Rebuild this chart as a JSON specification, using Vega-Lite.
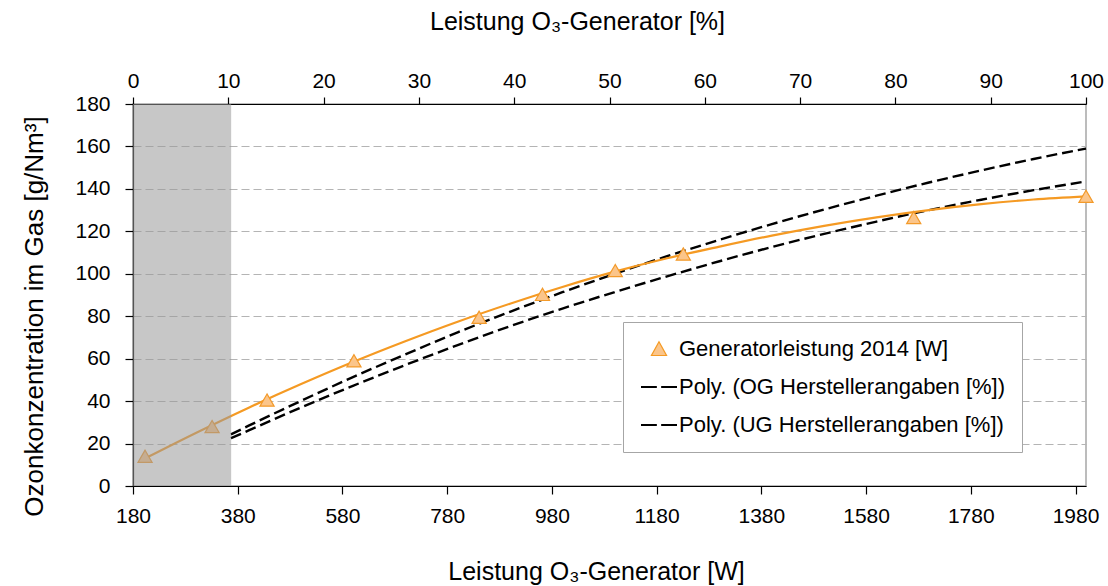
{
  "$schema": "https://vega.github.io/schema/vega-lite/v6.json",
  "width": 953,
  "height": 382,
  "autosize": {"type": "none"},
  "padding": {"left": 133, "top": 104, "right": 22, "bottom": 100},
  "background": "white",
  "config": {
    "font": "Liberation Sans",
    "view": {"stroke": "#a6a6a6", "strokeWidth": 1.5},
    "axis": {
      "labelFont": "Liberation Sans",
      "labelFontSize": 21,
      "labelColor": "black",
      "titleFont": "Liberation Sans",
      "titleFontSize": 25,
      "titleFontWeight": "normal",
      "titleColor": "black",
      "domainColor": "black",
      "domainWidth": 1.2,
      "tickColor": "black",
      "tickWidth": 1.2,
      "labelOverlap": false,
      "labelFlush": false,
      "format": "d",
      "zindex": 1
    },
    "legend": {"labelFont": "Liberation Sans"}
  },
  "datasets": {
    "series": [
      {"series": "Generatorleistung 2014 [W]", "kind": "point", "W": 203, "y": 14},
      {"series": "Generatorleistung 2014 [W]", "kind": "point", "W": 331, "y": 28},
      {"series": "Generatorleistung 2014 [W]", "kind": "point", "W": 436, "y": 40.5},
      {"series": "Generatorleistung 2014 [W]", "kind": "point", "W": 602, "y": 59},
      {"series": "Generatorleistung 2014 [W]", "kind": "point", "W": 841, "y": 79.5},
      {"series": "Generatorleistung 2014 [W]", "kind": "point", "W": 962, "y": 90.3},
      {"series": "Generatorleistung 2014 [W]", "kind": "point", "W": 1101, "y": 101.5},
      {"series": "Generatorleistung 2014 [W]", "kind": "point", "W": 1231, "y": 109.3},
      {"series": "Generatorleistung 2014 [W]", "kind": "point", "W": 1671, "y": 126.5},
      {"series": "Generatorleistung 2014 [W]", "kind": "point", "W": 2000, "y": 136.5},

      {"series": "Generatorleistung 2014 [W]", "kind": "trend", "W": 203, "y": 13.0},
      {"series": "Generatorleistung 2014 [W]", "kind": "trend", "W": 300, "y": 25.0},
      {"series": "Generatorleistung 2014 [W]", "kind": "trend", "W": 400, "y": 36.8},
      {"series": "Generatorleistung 2014 [W]", "kind": "trend", "W": 500, "y": 47.9},
      {"series": "Generatorleistung 2014 [W]", "kind": "trend", "W": 600, "y": 58.4},
      {"series": "Generatorleistung 2014 [W]", "kind": "trend", "W": 700, "y": 68.2},
      {"series": "Generatorleistung 2014 [W]", "kind": "trend", "W": 800, "y": 77.4},
      {"series": "Generatorleistung 2014 [W]", "kind": "trend", "W": 900, "y": 85.9},
      {"series": "Generatorleistung 2014 [W]", "kind": "trend", "W": 1000, "y": 93.8},
      {"series": "Generatorleistung 2014 [W]", "kind": "trend", "W": 1100, "y": 101.0},
      {"series": "Generatorleistung 2014 [W]", "kind": "trend", "W": 1200, "y": 107.3},
      {"series": "Generatorleistung 2014 [W]", "kind": "trend", "W": 1300, "y": 112.8},
      {"series": "Generatorleistung 2014 [W]", "kind": "trend", "W": 1400, "y": 118.0},
      {"series": "Generatorleistung 2014 [W]", "kind": "trend", "W": 1500, "y": 122.6},
      {"series": "Generatorleistung 2014 [W]", "kind": "trend", "W": 1600, "y": 126.6},
      {"series": "Generatorleistung 2014 [W]", "kind": "trend", "W": 1700, "y": 130.0},
      {"series": "Generatorleistung 2014 [W]", "kind": "trend", "W": 1800, "y": 132.8},
      {"series": "Generatorleistung 2014 [W]", "kind": "trend", "W": 1900, "y": 135.0},
      {"series": "Generatorleistung 2014 [W]", "kind": "trend", "W": 2000, "y": 136.5},

      {"series": "Poly. (OG Herstellerangaben [%])", "kind": "trend", "W": 367, "y": 24.3},
      {"series": "Poly. (OG Herstellerangaben [%])", "kind": "trend", "W": 400, "y": 28.3},
      {"series": "Poly. (OG Herstellerangaben [%])", "kind": "trend", "W": 500, "y": 40.0},
      {"series": "Poly. (OG Herstellerangaben [%])", "kind": "trend", "W": 600, "y": 51.3},
      {"series": "Poly. (OG Herstellerangaben [%])", "kind": "trend", "W": 700, "y": 62.0},
      {"series": "Poly. (OG Herstellerangaben [%])", "kind": "trend", "W": 800, "y": 72.4},
      {"series": "Poly. (OG Herstellerangaben [%])", "kind": "trend", "W": 900, "y": 82.1},
      {"series": "Poly. (OG Herstellerangaben [%])", "kind": "trend", "W": 1000, "y": 91.3},
      {"series": "Poly. (OG Herstellerangaben [%])", "kind": "trend", "W": 1100, "y": 100.0},
      {"series": "Poly. (OG Herstellerangaben [%])", "kind": "trend", "W": 1200, "y": 108.3},
      {"series": "Poly. (OG Herstellerangaben [%])", "kind": "trend", "W": 1300, "y": 116.0},
      {"series": "Poly. (OG Herstellerangaben [%])", "kind": "trend", "W": 1400, "y": 123.4},
      {"series": "Poly. (OG Herstellerangaben [%])", "kind": "trend", "W": 1500, "y": 130.3},
      {"series": "Poly. (OG Herstellerangaben [%])", "kind": "trend", "W": 1600, "y": 136.8},
      {"series": "Poly. (OG Herstellerangaben [%])", "kind": "trend", "W": 1700, "y": 143.0},
      {"series": "Poly. (OG Herstellerangaben [%])", "kind": "trend", "W": 1800, "y": 148.7},
      {"series": "Poly. (OG Herstellerangaben [%])", "kind": "trend", "W": 1900, "y": 154.1},
      {"series": "Poly. (OG Herstellerangaben [%])", "kind": "trend", "W": 2000, "y": 159.0},

      {"series": "Poly. (UG Herstellerangaben [%])", "kind": "trend", "W": 367, "y": 22.5},
      {"series": "Poly. (UG Herstellerangaben [%])", "kind": "trend", "W": 400, "y": 26.1},
      {"series": "Poly. (UG Herstellerangaben [%])", "kind": "trend", "W": 500, "y": 36.9},
      {"series": "Poly. (UG Herstellerangaben [%])", "kind": "trend", "W": 600, "y": 47.2},
      {"series": "Poly. (UG Herstellerangaben [%])", "kind": "trend", "W": 700, "y": 57.0},
      {"series": "Poly. (UG Herstellerangaben [%])", "kind": "trend", "W": 800, "y": 66.4},
      {"series": "Poly. (UG Herstellerangaben [%])", "kind": "trend", "W": 900, "y": 75.3},
      {"series": "Poly. (UG Herstellerangaben [%])", "kind": "trend", "W": 1000, "y": 83.6},
      {"series": "Poly. (UG Herstellerangaben [%])", "kind": "trend", "W": 1100, "y": 91.4},
      {"series": "Poly. (UG Herstellerangaben [%])", "kind": "trend", "W": 1200, "y": 98.8},
      {"series": "Poly. (UG Herstellerangaben [%])", "kind": "trend", "W": 1300, "y": 105.9},
      {"series": "Poly. (UG Herstellerangaben [%])", "kind": "trend", "W": 1400, "y": 112.6},
      {"series": "Poly. (UG Herstellerangaben [%])", "kind": "trend", "W": 1500, "y": 118.8},
      {"series": "Poly. (UG Herstellerangaben [%])", "kind": "trend", "W": 1600, "y": 124.6},
      {"series": "Poly. (UG Herstellerangaben [%])", "kind": "trend", "W": 1700, "y": 130.0},
      {"series": "Poly. (UG Herstellerangaben [%])", "kind": "trend", "W": 1800, "y": 134.9},
      {"series": "Poly. (UG Herstellerangaben [%])", "kind": "trend", "W": 1900, "y": 139.4},
      {"series": "Poly. (UG Herstellerangaben [%])", "kind": "trend", "W": 2000, "y": 143.5}
    ],
    "shade": [
      {"from_pct": 0, "to_pct": 10.3}
    ]
  },
  "layer": [
    {
      "data": {"name": "series"},
      "encoding": {
        "x": {
          "field": "W",
          "type": "quantitative",
          "scale": {"domain": [180, 2000], "nice": false, "zero": false},
          "axis": {
            "orient": "bottom",
            "values": [180, 380, 580, 780, 980, 1180, 1380, 1580, 1780, 1980],
            "tickSize": 8,
            "labelPadding": 11,
            "grid": false,
            "title": "Leistung O₃-Generator [W]",
            "titleX": 463,
            "titleY": 93,
            "titleAlign": "center",
            "titleBaseline": "alphabetic"
          }
        },
        "y": {
          "field": "y",
          "type": "quantitative",
          "scale": {"domain": [0, 180], "nice": false},
          "axis": {
            "orient": "left",
            "values": [0, 20, 40, 60, 80, 100, 120, 140, 160, 180],
            "tickSize": 8,
            "labelPadding": 15,
            "grid": true,
            "gridColor": "#b4b4b4",
            "gridDash": [8, 4],
            "gridWidth": 1.2,
            "title": "Ozonkonzentration im Gas [g/Nm³]",
            "titleFontSize": 26,
            "titleAngle": -90,
            "titleX": -99,
            "titleY": 212,
            "titleAlign": "center",
            "titleBaseline": "middle"
          }
        }
      },
      "layer": [
        {
          "transform": [{"filter": "datum.kind === 'trend' && datum.series !== 'Generatorleistung 2014 [W]'"}],
          "mark": {"type": "line", "strokeWidth": 2.4, "strokeDash": [11, 5], "interpolate": "monotone"},
          "encoding": {
            "detail": {"field": "series"},
            "color": {
              "field": "series",
              "type": "nominal",
              "scale": {
                "domain": ["Generatorleistung 2014 [W]", "Poly. (OG Herstellerangaben [%])", "Poly. (UG Herstellerangaben [%])"],
                "range": ["#F59A23", "#000000", "#000000"]
              },
              "legend": {
                "orient": "none",
                "legendX": 490,
                "legendY": 218,
                "title": null,
                "padding": 16,
                "fillColor": "white",
                "strokeColor": "#a6a6a6",
                "symbolSize": 1296,
                "labelFontSize": 22,
                "labelColor": "black",
                "labelOffset": 18,
                "labelLimit": 500,
                "rowPadding": 16,
                "zindex": 3,
                "encode": {
                  "symbols": {
                    "update": {
                      "shape": {"signal": "datum.value === 'Generatorleistung 2014 [W]' ? 'M0.5,-0.4L0.92,0.36L0.08,0.36Z' : 'M-0.5,0H0.38M0.62,0H1.5'"},
                      "size": {"value": 1296},
                      "fill": {"signal": "datum.value === 'Generatorleistung 2014 [W]' ? '#FBC58A' : 'transparent'"},
                      "stroke": {"signal": "datum.value === 'Generatorleistung 2014 [W]' ? '#F39A2A' : '#000000'"},
                      "strokeWidth": {"signal": "datum.value === 'Generatorleistung 2014 [W]' ? 1.2 : 2"},
                      "strokeDash": {"value": []},
                      "opacity": {"value": 1}
                    }
                  }
                }
              }
            }
          }
        },
        {
          "transform": [{"filter": "datum.kind === 'trend' && datum.series === 'Generatorleistung 2014 [W]'"}],
          "mark": {"type": "line", "strokeWidth": 2.2, "interpolate": "monotone"},
          "encoding": {
            "color": {
              "field": "series",
              "type": "nominal",
              "scale": {
                "domain": ["Generatorleistung 2014 [W]", "Poly. (OG Herstellerangaben [%])", "Poly. (UG Herstellerangaben [%])"],
                "range": ["#F59A23", "#000000", "#000000"]
              }
            }
          }
        },
        {
          "transform": [{"filter": "datum.kind === 'point'"}],
          "mark": {"type": "point", "shape": "triangle-up", "filled": true, "size": 200, "fill": "#FBC58A", "stroke": "#F39A2A", "strokeWidth": 1.2, "opacity": 1},
          "encoding": {}
        }
      ]
    },
    {
      "data": {"name": "shade"},
      "mark": {"type": "rect", "fill": "#999999", "opacity": 0.55},
      "encoding": {
        "x": {
          "field": "from_pct",
          "type": "quantitative",
          "scale": {"domain": [0, 100], "nice": false, "zero": false},
          "axis": {
            "orient": "top",
            "values": [0, 10, 20, 30, 40, 50, 60, 70, 80, 90, 100],
            "tickSize": 7,
            "labelPadding": 6,
            "grid": false,
            "title": "Leistung O₃-Generator [%]",
            "titleX": 444,
            "titleY": -75,
            "titleAlign": "center",
            "titleBaseline": "alphabetic"
          }
        },
        "x2": {"field": "to_pct"}
      }
    }
  ],
  "resolve": {"scale": {"x": "independent"}, "axis": {"x": "independent"}}
}
